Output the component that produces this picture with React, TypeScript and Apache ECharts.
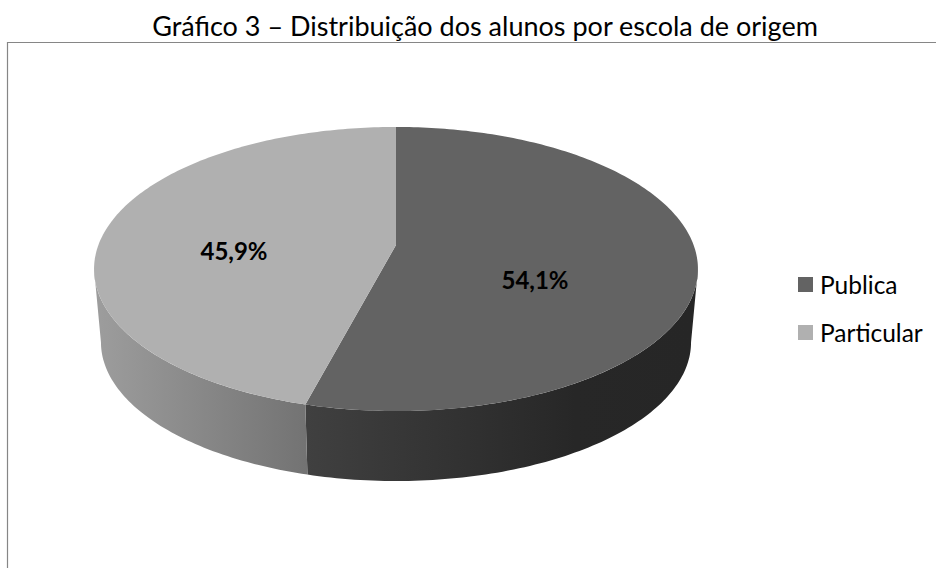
import React, { useEffect, useRef } from "react";
import * as echarts from "echarts";

const categories = ["Publica", "Particular"];
const shares = [54.1, 45.9];
const shareLabels = ["54,1%", "45,9%"];
const topColors = ["#636363", "#b0b0b0"];
const titleText = "Gráfico 3 – Distribuição dos alunos por escola de origem";

const FONT = "Lato, Carlito, Calibri, sans-serif";
const TOP = { cx: 396, cy: 245, sx: 297.6, sy: 138 };
const BOTTOM = { cx: 396, cy: 318.8, sx: 290.8, sy: 134.8 };
const K = 0.169;
const SIDE_FROM = 99.7;
const SIDE_TO = 260.3;
const sideStops = [
  [
    { offset: 0, color: "#262626" },
    { offset: 0.3, color: "#272727" },
    { offset: 1, color: "#404040" },
  ],
  [
    { offset: 0, color: "#737373" },
    { offset: 1, color: "#9c9c9c" },
  ],
];
const sideSpans = [
  [691, 306],
  [306, 101],
];
const labelSpots = [
  [535, 279],
  [234, 250],
];

function project(deg: number, p: typeof TOP) {
  const a = (deg * Math.PI) / 180;
  const X = Math.sin(a);
  const Y = -Math.cos(a);
  const w = 1 - K * Y;
  return [p.cx + (p.sx * X) / w, p.cy + (p.sy * Y) / w];
}

function arc(from: number, to: number, p: typeof TOP) {
  const pts: number[][] = [];
  const n = Math.max(2, Math.ceil(Math.abs(to - from)));
  for (let i = 0; i <= n; i++) pts.push(project(from + ((to - from) * i) / n, p));
  return pts;
}

function makeSeries(i: number, start: number, end: number) {
  return {
    type: "custom",
    name: categories[i],
    coordinateSystem: "none",
    silent: true,
    itemStyle: { color: topColors[i] },
    data: [[start, end]],
    renderItem: (_params: any, api: any) => {
      const a0 = api.value(0);
      const a1 = api.value(1);
      const s0 = Math.max(a0, SIDE_FROM);
      const s1 = Math.min(a1, SIDE_TO);
      const side = arc(s0, s1, TOP).concat(arc(s1, s0, BOTTOM));
      const [gx0, gx1] = sideSpans[i];
      const gradient = new echarts.graphic.LinearGradient(gx0, 0, gx1, 0, sideStops[i], true);
      const top = [[TOP.cx, TOP.cy], ...arc(a0, a1, TOP)];
      return {
        type: "group",
        children: [
          { type: "polygon", shape: { points: side }, style: { fill: gradient } },
          { type: "polygon", shape: { points: top }, style: { fill: topColors[i] } },
          {
            type: "text",
            style: {
              text: shareLabels[i],
              x: labelSpots[i][0],
              y: labelSpots[i][1],
              fill: "#000000",
              font: `bold 24px ${FONT}`,
              align: "center",
              verticalAlign: "middle",
            },
          },
        ],
      };
    },
  };
}

export default function App() {
  const ref = useRef<HTMLDivElement>(null);
  useEffect(() => {
    const chart = echarts.init(ref.current!, undefined, { renderer: "svg" });
    const total = shares.reduce((s, v) => s + v, 0);
    let acc = 0;
    const series = shares.map((v, i) => {
      const start = (acc / total) * 360;
      acc += v;
      return makeSeries(i, start, (acc / total) * 360);
    });
    chart.setOption({
      animation: false,
      backgroundColor: "#ffffff",
      title: {
        text: titleText,
        left: 480,
        top: 7,
        textAlign: "center",
        textStyle: { fontFamily: FONT, fontSize: 27, fontWeight: "normal", color: "#000000" },
      },
      legend: {
        orient: "vertical",
        left: 793,
        top: 267,
        icon: "rect",
        itemWidth: 15,
        itemHeight: 15,
        itemGap: 23,
        selectedMode: false,
        data: categories,
        textStyle: { fontFamily: FONT, fontSize: 24.5, color: "#000000", padding: [0, 0, 0, 2] },
      },
      graphic: [
        {
          type: "polyline",
          silent: true,
          shape: { points: [[7.5, 568], [7.5, 42.5], [936, 42.5]] },
          style: { stroke: "#868686", lineWidth: 1.2, fill: "none" },
        },
      ],
      series,
    });
    return () => chart.dispose();
  }, []);
  return <div ref={ref} style={{ position: "absolute", left: 0, top: 0, width: 936, height: 568 }} />;
}
